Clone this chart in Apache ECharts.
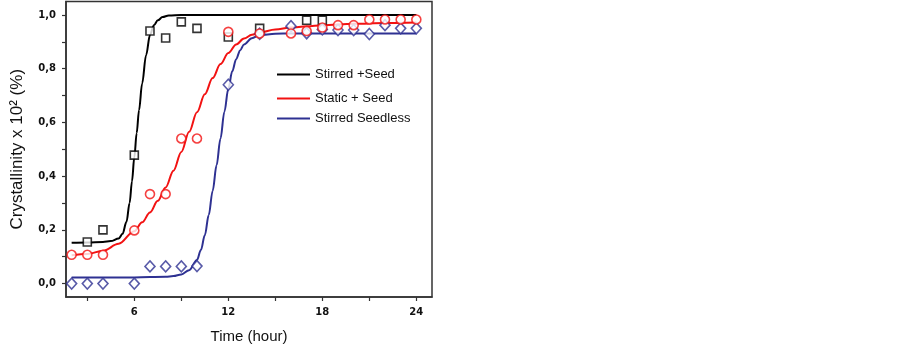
<!DOCTYPE html>
<html>
<head>
<meta charset="utf-8">
<script src="https://cdn.jsdelivr.net/npm/echarts@6/dist/echarts.min.js"></script>
<style>
  html, body { margin: 0; padding: 0; background: #fff; }
  #chart { width: 902px; height: 349px; }
</style>
</head>
<body>
<div id="chart"></div>
<script>
// measured points [time (h), crystallinity]
const stirredSeedPts = [[3, 0.155], [4, 0.2], [6, 0.478], [7, 0.94], [8, 0.914], [9, 0.974], [10, 0.95], [12, 0.918], [14, 0.95], [17, 0.98], [18, 0.98]]
const staticSeedPts = [[2, 0.107], [3, 0.107], [4, 0.107], [6, 0.198], [7, 0.333], [8, 0.333], [9, 0.54], [10, 0.54], [12, 0.937], [14, 0.931], [16, 0.931], [17, 0.94], [18, 0.953], [19, 0.962], [20, 0.962], [21, 0.983], [22, 0.983], [23, 0.983], [24, 0.983]]
const seedlessPts = [[2, 0.0], [3, 0.0], [4, 0.0], [6, 0.0], [7, 0.064], [8, 0.064], [9, 0.064], [10, 0.065], [12, 0.74], [14, 0.93], [16, 0.958], [17, 0.932], [18, 0.946], [19, 0.944], [20, 0.944], [21, 0.929], [22, 0.962], [23, 0.95], [24, 0.95]]

// fitted curves
const stirredSeedFit = [[2, 0.152], [3, 0.153], [4, 0.155], [4.5, 0.158], [5, 0.168], [5.25, 0.185], [5.5, 0.23], [5.7, 0.3], [5.85, 0.38], [6, 0.47], [6.15, 0.56], [6.3, 0.645], [6.5, 0.745], [6.75, 0.85], [7, 0.925], [7.25, 0.962], [7.5, 0.98], [7.8, 0.992], [8.2, 0.998], [9, 1.0], [12, 1.0], [18, 1.0], [24, 1.0]]
const staticSeedFit = [[2, 0.105], [3, 0.11], [4, 0.122], [5, 0.148], [6, 0.195], [6.5, 0.228], [7, 0.265], [7.5, 0.308], [8, 0.358], [8.5, 0.42], [9, 0.49], [9.5, 0.565], [10, 0.638], [10.5, 0.705], [11, 0.765], [11.5, 0.817], [12, 0.858], [12.5, 0.89], [13, 0.912], [13.5, 0.926], [14, 0.935], [15, 0.946], [16, 0.953], [17, 0.958], [18, 0.962], [20, 0.967], [22, 0.97], [24, 0.972]]
const seedlessFit = [[2, 0.023], [6, 0.023], [8, 0.025], [8.5, 0.028], [9, 0.034], [9.5, 0.05], [10, 0.088], [10.25, 0.125], [10.5, 0.18], [10.75, 0.255], [11, 0.345], [11.25, 0.44], [11.5, 0.54], [11.75, 0.64], [12, 0.725], [12.25, 0.79], [12.5, 0.835], [12.75, 0.868], [13, 0.89], [13.5, 0.913], [14, 0.925], [15, 0.93], [16, 0.931], [20, 0.931], [24, 0.931]]

const xLabels = [6, 12, 18, 24]
const xTicks = [3, 6, 9, 12, 15, 18, 21, 24]
const yLabels = [0, 0.2, 0.4, 0.6, 0.8, 1.0]
const yTicks = [0, 0.1, 0.2, 0.3, 0.4, 0.5, 0.6, 0.7, 0.8, 0.9, 1.0]

const names = ['Stirred +Seed', 'Static + Seed', 'Stirred Seedless']
const colors = ['#000000', '#f21212', '#2e3192']

const chart = echarts.init(document.getElementById('chart'))

const axisText = { fontFamily: 'DejaVu Sans', fontWeight: 'bold', fontSize: 10, color: '#111' }
const legendBase = {
  left: 277,
  orient: 'vertical',
  padding: 0,
  icon: 'rect',
  itemWidth: 33,
  itemHeight: 2,
  itemGap: 5,
  textStyle: { fontFamily: 'Liberation Sans', fontSize: 13, color: '#111' },
}

function fitSeries(i, data) {
  return {
    name: names[i],
    type: 'line',
    data: data,
    symbol: 'none',
    smooth: 0.35,
    smoothMonotone: 'x',
    z: 2,
    lineStyle: { color: colors[i], width: 2 },
    itemStyle: { color: colors[i] },
  }
}

function pointSeries(i, data, symbol, size, z) {
  return {
    name: names[i] + ' data',
    type: 'scatter',
    data: data,
    symbol: symbol,
    symbolSize: size,
    z: z,
    itemStyle: { color: '#fff', borderColor: colors[i], borderWidth: 1.6 },
  }
}

chart.setOption({
  animation: false,
  legend: [
    Object.assign({}, legendBase, { top: 68, data: [names[0]] }),
    Object.assign({}, legendBase, { top: 92, data: [names[1]] }),
    Object.assign({}, legendBase, { top: 112, data: [names[2]] }),
  ],
  grid: {
    left: 66,
    top: 1.5,
    width: 366,
    height: 297,
    show: true,
    borderColor: '#333',
    borderWidth: 1.5,
  },
  xAxis: {
    type: 'value',
    min: 1.64,
    max: 25,
    name: 'Time (hour)',
    nameLocation: 'middle',
    nameGap: 32,
    nameTextStyle: { fontFamily: 'Liberation Sans', fontSize: 15, color: '#111' },
    axisLine: { show: true, onZero: false, lineStyle: { color: '#333', width: 1.5 } },
    axisTick: { show: true, inside: false, length: 4, customValues: xTicks, lineStyle: { color: '#333', width: 1.2 } },
    axisLabel: Object.assign({ customValues: xLabels, margin: 10 }, axisText),
    splitLine: { show: false },
  },
  yAxis: {
    type: 'value',
    min: -0.05,
    max: 1.05,
    name: 'Crystallinity x 10² (%)',
    nameLocation: 'middle',
    nameGap: 40,
    nameTextStyle: { fontFamily: 'Liberation Sans', fontSize: 17, color: '#111' },
    axisLine: { show: true, onZero: false, lineStyle: { color: '#333', width: 1.5 } },
    axisTick: { show: true, inside: false, length: 4, customValues: yTicks, lineStyle: { color: '#333', width: 1.2 } },
    axisLabel: Object.assign({
      customValues: yLabels,
      margin: 10,
      formatter: (v) => v.toFixed(1).replace('.', ','),
    }, axisText),
    splitLine: { show: false },
  },
  series: [
    fitSeries(0, stirredSeedFit),
    fitSeries(1, staticSeedFit),
    fitSeries(2, seedlessFit),
    pointSeries(0, stirredSeedPts, 'rect', 8, 3),
    pointSeries(2, seedlessPts, 'diamond', [10, 11], 4),
    pointSeries(1, staticSeedPts, 'circle', 9, 5),
  ],
})
</script>
</body>
</html>
